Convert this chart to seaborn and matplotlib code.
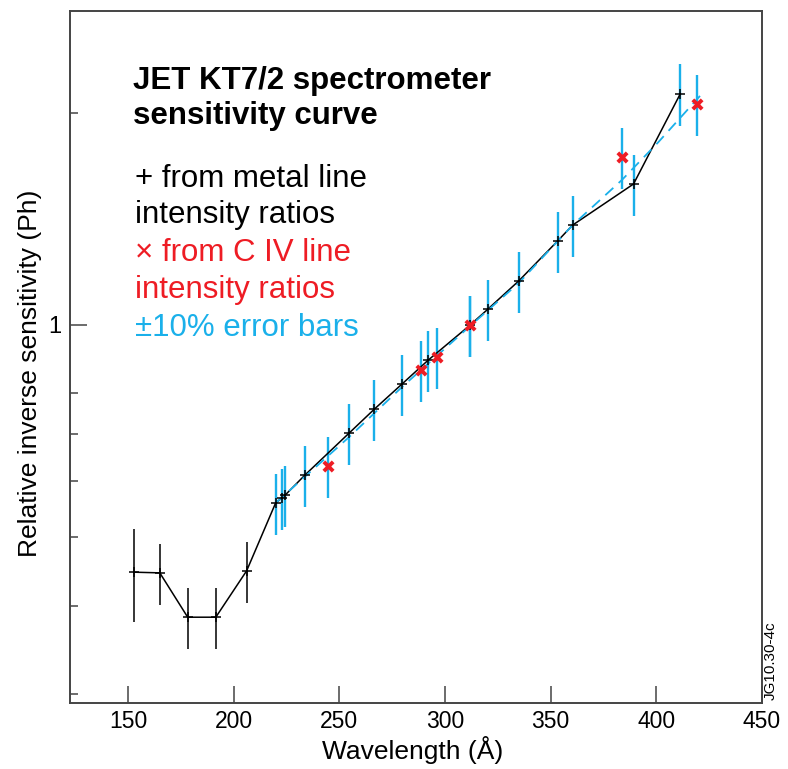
import matplotlib
matplotlib.use("Agg")
import matplotlib.pyplot as plt
import seaborn as sns
import numpy as np
import pandas as pd
from matplotlib.ticker import NullFormatter

# ---- data ----
metal_x = [152.7, 165.0, 178.2, 191.5, 206.1, 219.8, 222.6, 224.4, 233.8, 254.7,
           266.6, 279.7, 292.1, 311.9, 320.4, 334.9, 353.3, 360.4, 389.2, 411.4]
metal_y = [0.446, 0.445, 0.385, 0.385, 0.448, 0.559, 0.568, 0.574, 0.613, 0.703,
           0.760, 0.825, 0.892, 1.000, 1.054, 1.155, 1.316, 1.386, 1.585, 2.130]
metal_err = [0.15, 0.10, 0.10, 0.10, 0.10, 0.10, 0.10, 0.10, 0.10, 0.10,
             0.10, 0.10, 0.10, 0.10, 0.10, 0.10, 0.10, 0.10, 0.10, 0.10]
metal_bar_black = [True, True, True, True, True, False, False, False, False, False,
                   False, False, False, False, False, False, False, False, False, False]

civ_x = [244.4, 288.8, 296.3, 311.9, 383.7, 419.1]
civ_y = [0.631, 0.863, 0.901, 1.000, 1.731, 2.058]
civ_err = [0.10, 0.10, 0.10, 0.10, 0.10, 0.10]

fit_x = [219.8, 254.7, 279.7, 311.9, 334.9, 360.4, 383.7, 401.0, 421.5]
fit_y = [0.559, 0.694, 0.817, 0.997, 1.147, 1.386, 1.606, 1.818, 2.127]

xticks = [150, 200, 250, 300, 350, 400, 450]

BLUE = "#1ab0ea"
RED = "#ee1c24"
BLACK = "#000000"
SPINE = "#444444"

sns.set_style("ticks")
plt.rcParams["font.family"] = ["Liberation Sans", "DejaVu Sans"]
plt.rcParams["text.color"] = "black"
plt.rcParams["xtick.labelcolor"] = "black"
plt.rcParams["ytick.labelcolor"] = "black"

metal = pd.DataFrame({"x": metal_x, "y": metal_y, "err": metal_err, "black": metal_bar_black})
civ = pd.DataFrame({"x": civ_x, "y": civ_y, "err": civ_err})
fit = pd.DataFrame({"x": fit_x, "y": fit_y})

fig = plt.figure(figsize=(7.88, 7.69), dpi=100)
W, H = 788, 769
ax = fig.add_axes([70 / W, 1 - 703 / H, (762 - 70) / W, (703 - 11) / H])
ax.set_yscale("log")

# error bars
mb = metal[metal["black"]]
mbl = metal[~metal["black"]]
ax.vlines(mbl["x"], mbl["y"] * (1 - mbl["err"]), mbl["y"] * (1 + mbl["err"]),
          color=BLUE, lw=1.7, zorder=2)
ax.vlines(civ["x"], civ["y"] * (1 - civ["err"]), civ["y"] * (1 + civ["err"]),
          color=BLUE, lw=1.7, zorder=2)
ax.vlines(mb["x"], mb["y"] * (1 - mb["err"]), mb["y"] * (1 + mb["err"]),
          color=BLACK, lw=1.1, zorder=2)

# lines
sns.lineplot(data=metal, x="x", y="y", ax=ax, color=BLACK, lw=1.1,
             sort=False, estimator=None, zorder=3)
sns.lineplot(data=fit, x="x", y="y", ax=ax, color=BLUE, lw=1.3,
             sort=False, estimator=None, zorder=4, dashes=False, linestyle=(0, (6, 4)))

# markers
sns.scatterplot(data=metal, x="x", y="y", ax=ax, marker="+", s=45, color=BLACK,
                linewidth=1.1, zorder=5)
sns.scatterplot(data=civ, x="x", y="y", ax=ax, marker="x", s=45, color=RED,
                linewidth=2.8, zorder=6)

ax.set_xlim(122.5, 450)
ax.set_ylim(0.2909, 2.789)
ax.set_xticks(xticks)
ax.set_xticklabels([str(t) for t in xticks])
ax.set_yticks([1])
ax.set_yticklabels(["1"])
ax.set_yticks([0.3, 0.4, 0.5, 0.6, 0.7, 0.8, 2], minor=True)
ax.yaxis.set_minor_formatter(NullFormatter())
ax.xaxis.set_minor_locator(matplotlib.ticker.NullLocator())
ax.tick_params(axis="x", which="major", direction="in", length=12, width=1.1,
               color=SPINE, labelsize=16.5, pad=5, labelcolor="black")
ax.tick_params(axis="y", which="major", direction="in", length=12, width=1.1,
               color=SPINE, labelsize=17, pad=6, labelcolor="black")
ax.tick_params(axis="y", which="minor", direction="in", length=6, width=1.1, color=SPINE)
for s in ax.spines.values():
    s.set_visible(True)
    s.set_color(SPINE)
    s.set_linewidth(1.4)
ax.set_xlabel("")
ax.set_ylabel("")

fig.text(413 / W, 1 - 750 / H, "Wavelength (Å)", fontsize=19, ha="center", va="center",
         color="black")
fig.text(30 / W, 1 - 373 / H, "Relative inverse sensitivity (Ph)", fontsize=19,
         rotation=90, ha="center", va="center", color="black")
fig.text(771 / W, 1 - 700 / H, "JG10.30-4c", fontsize=11, rotation=90,
         ha="center", va="bottom", color="black")

# annotation block
fig.text(133 / W, 1 - 89 / H, "JET KT7/2 spectrometer", fontsize=22.5,
         fontweight="bold", ha="left", va="baseline", color="black")
fig.text(133 / W, 1 - 124 / H, "sensitivity curve", fontsize=22.5,
         fontweight="bold", ha="left", va="baseline", color="black")
legend_lines = [("+ from metal line", BLACK, 187),
                ("intensity ratios", BLACK, 223),
                ("\u00d7 from C IV line", RED, 261),
                ("intensity ratios", RED, 298),
                ("\u00b110% error bars", BLUE, 336)]
for txt, col, yb in legend_lines:
    fig.text(135 / W, 1 - yb / H, txt, fontsize=22.5, color=col, ha="left", va="baseline")

fig.savefig("out.png", dpi=100)
